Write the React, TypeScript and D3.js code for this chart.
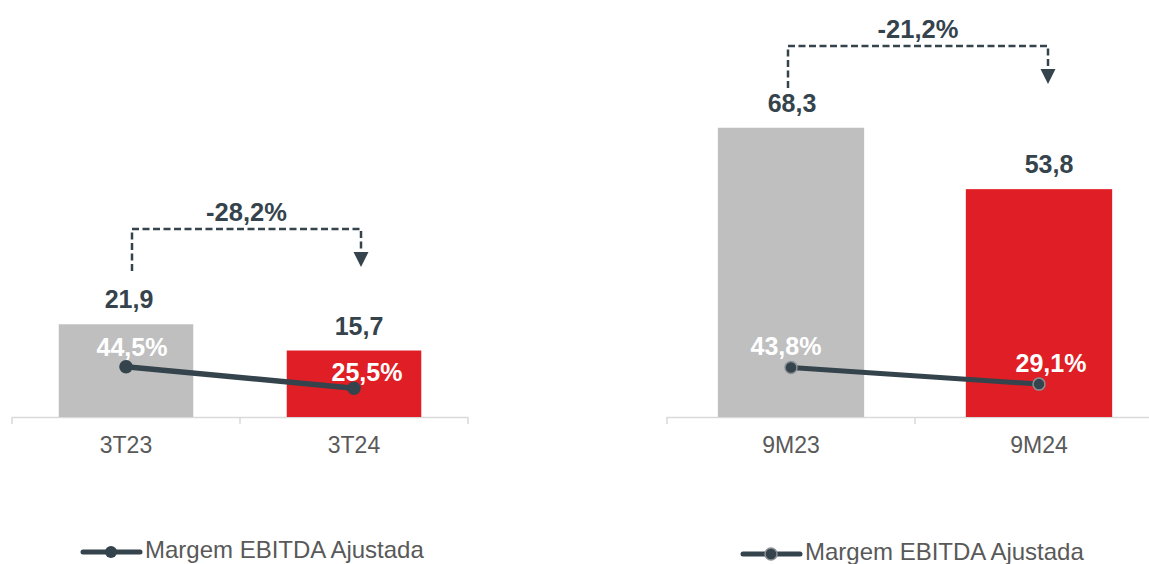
import React from 'react';
import * as d3 from 'd3';

// data
const periodsQuarter = ['3T23', '3T24'];
const ebitdaQuarter = [21.9, 15.7];
const marginQuarter = [44.5, 25.5];
const changeQuarter = -28.2;

const periodsNineMonths = ['9M23', '9M24'];
const ebitdaNineMonths = [68.3, 53.8];
const marginNineMonths = [43.8, 29.1];
const changeNineMonths = -21.2;

const legendLabel = 'Margem EBITDA Ajustada';

const W = 1149;
const H = 564;
const baseline = 417;
const dark = '#35434c';
const barColors = ['#bfbfbf', '#e01e25'];
const font = '"Liberation Sans", Arial, sans-serif';

const locale = d3.formatLocale({
  decimal: ',',
  thousands: '.',
  grouping: [3],
  currency: ['R$', ''],
  minus: '-',
});
const fmt = locale.format('.1f');

// shared scales for values and margins
const yValue = d3.scaleLinear().domain([0, 70]).range([baseline, baseline - 70 * 4.235]);
const yMargin = d3.scaleLinear().domain([0, 100]).range([baseline, baseline - 113]);

interface PanelProps {
  periods: string[];
  values: number[];
  margins: number[];
  change: number;
  xRange: [number, number];
  valueDx: number[];
  pctDx: number[];
  pctDy: number[];
  bracketTop: number;
  bracketDx: [number, number];
  markerStroke: string | null;
  legendX: number;
  legendY: number;
  lineWidth: number;
  markerR: number;
}

const Panel = ({
  periods,
  values,
  margins,
  change,
  xRange,
  valueDx,
  pctDx,
  pctDy,
  bracketTop,
  bracketDx,
  markerStroke,
  legendX,
  legendY,
  lineWidth,
  markerR,
}: PanelProps) => {
  const x = d3.scaleBand().domain(periods).range(xRange).paddingInner(0.41).paddingOuter(0.205);
  const band = d3.scaleBand().domain(periods).range(xRange);
  const cx = (p: string) => (x(p) as number) + x.bandwidth() / 2;

  const line = d3
    .line<number>()
    .x((_, i) => cx(periods[i]))
    .y(d => yMargin(d));

  // dashed bracket from first to second bar
  const bx0 = cx(periods[0]) + bracketDx[0];
  const bx1 = cx(periods[1]) + bracketDx[1];
  const start = bracketTop + 42;
  const arrowTip = bracketTop + 38;
  const bracketPath = `M${bx0},${start}V${bracketTop}H${bx1}V${arrowTip - 14}`;

  const ticks = [...periods.map(p => band(p) as number), xRange[1]];

  return (
    <g>
      {/* axis */}
      <line x1={xRange[0]} x2={xRange[1]} y1={baseline + 0.5} y2={baseline + 0.5} stroke="#d9d9d9" strokeWidth={1.5} />
      {ticks.map((t, i) => (
        <line key={i} x1={t} x2={t} y1={baseline} y2={baseline + 7} stroke="#d9d9d9" strokeWidth={1.5} />
      ))}
      {periods.map(p => (
        <text key={p} x={cx(p)} y={453} textAnchor="middle" fontSize={23} fill="#595959" fontFamily={font}>
          {p}
        </text>
      ))}

      {/* bars */}
      {values.map((v, i) => (
        <rect
          key={i}
          x={x(periods[i])}
          y={yValue(v)}
          width={x.bandwidth()}
          height={baseline - yValue(v)}
          fill={barColors[i]}
        />
      ))}
      {values.map((v, i) => (
        <text
          key={i}
          x={cx(periods[i]) + valueDx[i]}
          y={yValue(v) - 16}
          textAnchor="middle"
          fontSize={25}
          fontWeight="bold"
          fill={dark}
          fontFamily={font}
        >
          {fmt(v)}
        </text>
      ))}

      {/* margin line */}
      <path d={line(margins) || ''} fill="none" stroke={dark} strokeWidth={lineWidth} />
      {margins.map((m, i) => (
        <circle
          key={i}
          cx={cx(periods[i])}
          cy={yMargin(m)}
          r={markerR}
          fill={dark}
          stroke={markerStroke || 'none'}
          strokeWidth={1.5}
        />
      ))}
      {margins.map((m, i) => (
        <text
          key={i}
          x={cx(periods[i]) + pctDx[i]}
          y={yMargin(m) - pctDy[i]}
          textAnchor="middle"
          fontSize={25}
          fontWeight="bold"
          fill="#ffffff"
          fontFamily={font}
        >
          {fmt(m)}%
        </text>
      ))}

      {/* change bracket */}
      <path d={bracketPath} fill="none" stroke={dark} strokeWidth={2.5} strokeDasharray="7 3.5" />
      <path d={`M${bx1 - 7.5},${arrowTip - 15}L${bx1 + 7.5},${arrowTip - 15}L${bx1},${arrowTip}Z`} fill={dark} />
      <text
        x={(bx0 + bx1) / 2}
        y={bracketTop - 8}
        textAnchor="middle"
        fontSize={25.5}
        fontWeight="bold"
        fill={dark}
        fontFamily={font}
      >
        {fmt(change)}%
      </text>

      {/* legend */}
      <line x1={legendX} x2={legendX + 57} y1={legendY} y2={legendY} stroke={dark} strokeWidth={5} strokeLinecap="round" />
      <circle
        cx={legendX + 28}
        cy={legendY}
        r={6}
        fill={dark}
        stroke={markerStroke || 'none'}
        strokeWidth={1.5}
      />
      <text x={legendX + 62} y={legendY + 6} fontSize={24} fill="#595959" fontFamily={font}>
        {legendLabel}
      </text>
    </g>
  );
};

export default function App() {
  return (
    <svg
      width={W}
      height={H}
      style={{position: 'absolute', left: 0, top: 0, background: '#ffffff'}}
    >
      <Panel
        periods={periodsQuarter}
        values={ebitdaQuarter}
        margins={marginQuarter}
        change={changeQuarter}
        xRange={[12, 468]}
        valueDx={[3, 5]}
        pctDx={[6, 13]}
        pctDy={[11, 7]}
        bracketTop={229}
        bracketDx={[6, 7]}
        markerStroke={null}
        legendX={83}
        legendY={552}
        lineWidth={5.5}
        markerR={6.8}
      />
      <Panel
        periods={periodsNineMonths}
        values={ebitdaNineMonths}
        margins={marginNineMonths}
        change={changeNineMonths}
        xRange={[667, 1163]}
        valueDx={[1, 10]}
        pctDx={[-5, 12]}
        pctDy={[13, 12]}
        bracketTop={46}
        bracketDx={[-3, 9]}
        markerStroke="#8a9096"
        legendX={743}
        legendY={554}
        lineWidth={5}
        markerR={6}
      />
    </svg>
  );
}
